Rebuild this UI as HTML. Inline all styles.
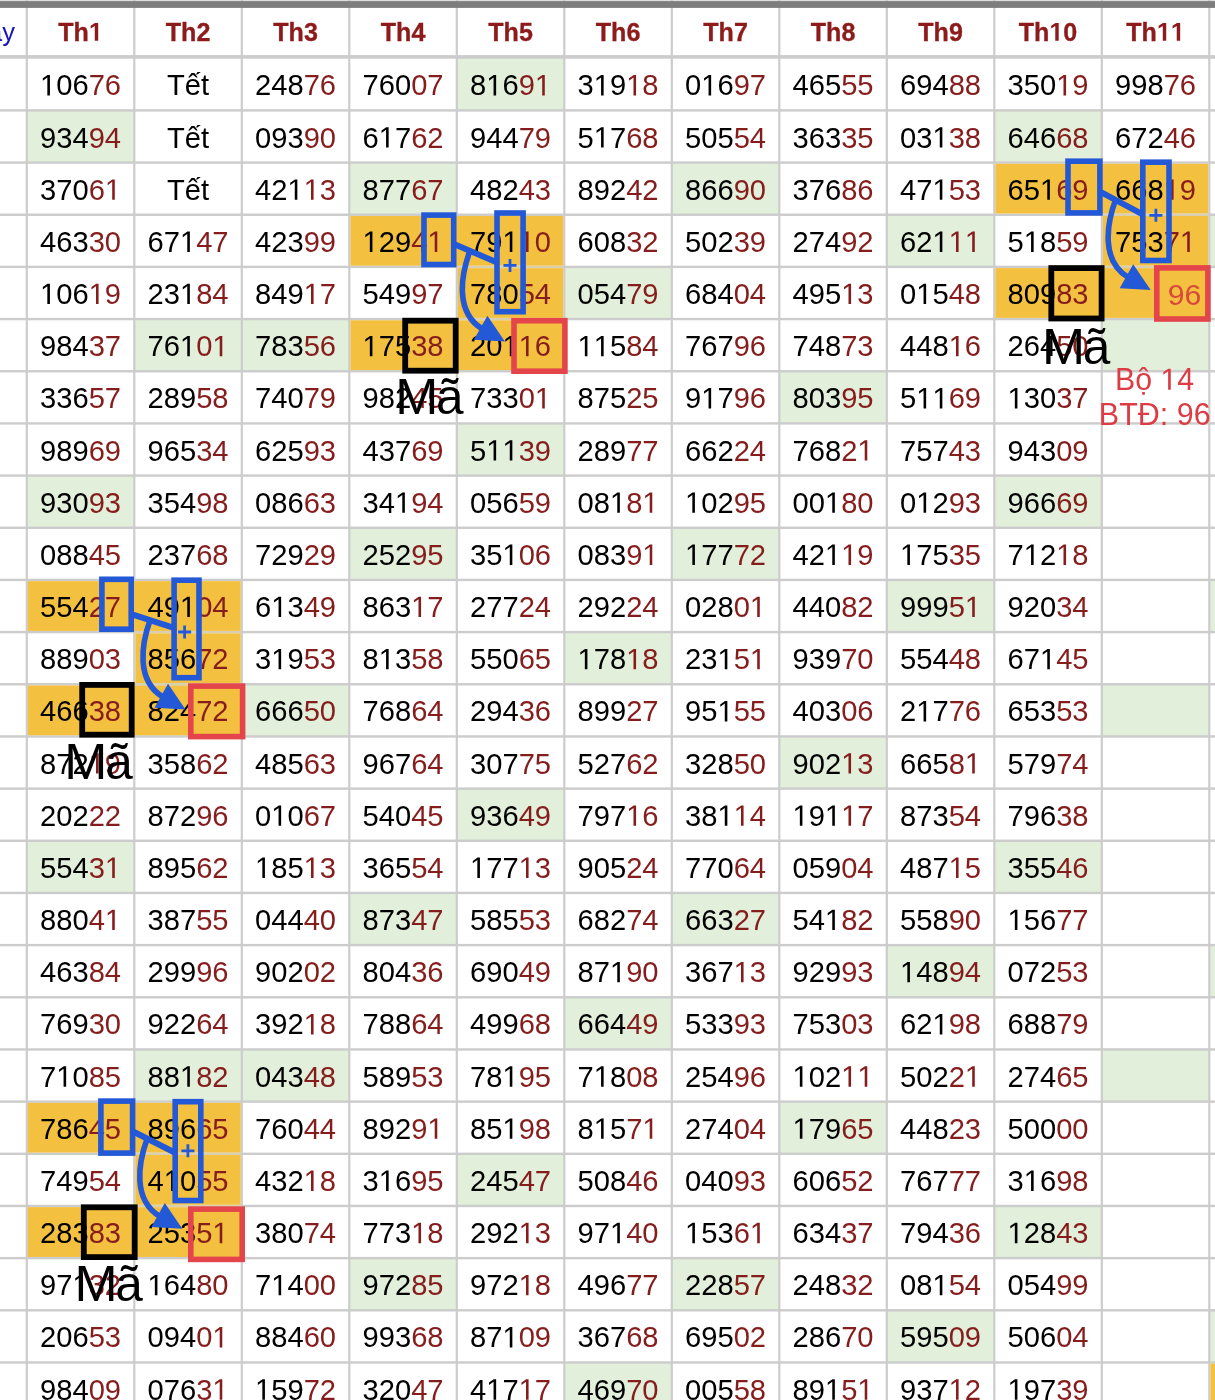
<!DOCTYPE html><html><head><meta charset="utf-8"><style>
html,body{margin:0;padding:0;background:#fff;width:1215px;height:1400px;overflow:hidden}
svg{display:block;will-change:transform;filter:blur(0.35px);font-family:"Liberation Sans",sans-serif}
</style></head><body>
<svg width="1215" height="1400" viewBox="0 0 1215 1400">
<defs><path id="one" d="M515 0L515 1237L197 1010L197 1180L530 1409L696 1409L696 0Z"/><path id="oneb" d="M478 0L478 1170L140 959L140 1180L493 1409L759 1409L759 0Z"/></defs>
<rect width="1215" height="1400" fill="#fff"/>
<rect x="26.80" y="110.40" width="107.50" height="52.17" fill="#e2efda"/>
<rect x="26.80" y="475.59" width="107.50" height="52.17" fill="#e2efda"/>
<rect x="26.80" y="840.78" width="107.50" height="52.17" fill="#e2efda"/>
<rect x="26.80" y="1205.97" width="107.50" height="52.17" fill="#e2efda"/>
<rect x="134.30" y="319.08" width="107.50" height="52.17" fill="#e2efda"/>
<rect x="134.30" y="684.27" width="107.50" height="52.17" fill="#e2efda"/>
<rect x="134.30" y="1049.46" width="107.50" height="52.17" fill="#e2efda"/>
<rect x="241.80" y="319.08" width="107.50" height="52.17" fill="#e2efda"/>
<rect x="241.80" y="684.27" width="107.50" height="52.17" fill="#e2efda"/>
<rect x="241.80" y="1049.46" width="107.50" height="52.17" fill="#e2efda"/>
<rect x="349.30" y="162.57" width="107.50" height="52.17" fill="#e2efda"/>
<rect x="349.30" y="527.76" width="107.50" height="52.17" fill="#e2efda"/>
<rect x="349.30" y="892.95" width="107.50" height="52.17" fill="#e2efda"/>
<rect x="349.30" y="1258.14" width="107.50" height="52.17" fill="#e2efda"/>
<rect x="456.80" y="56.90" width="107.50" height="53.50" fill="#e2efda"/>
<rect x="456.80" y="423.42" width="107.50" height="52.17" fill="#e2efda"/>
<rect x="456.80" y="788.61" width="107.50" height="52.17" fill="#e2efda"/>
<rect x="456.80" y="1153.80" width="107.50" height="52.17" fill="#e2efda"/>
<rect x="564.30" y="266.91" width="107.50" height="52.17" fill="#e2efda"/>
<rect x="564.30" y="632.10" width="107.50" height="52.17" fill="#e2efda"/>
<rect x="564.30" y="997.29" width="107.50" height="52.17" fill="#e2efda"/>
<rect x="564.30" y="1362.48" width="107.50" height="42.52" fill="#e2efda"/>
<rect x="671.80" y="162.57" width="107.50" height="52.17" fill="#e2efda"/>
<rect x="671.80" y="527.76" width="107.50" height="52.17" fill="#e2efda"/>
<rect x="671.80" y="892.95" width="107.50" height="52.17" fill="#e2efda"/>
<rect x="671.80" y="1258.14" width="107.50" height="52.17" fill="#e2efda"/>
<rect x="779.30" y="371.25" width="107.50" height="52.17" fill="#e2efda"/>
<rect x="779.30" y="736.44" width="107.50" height="52.17" fill="#e2efda"/>
<rect x="779.30" y="1101.63" width="107.50" height="52.17" fill="#e2efda"/>
<rect x="886.80" y="214.74" width="107.50" height="52.17" fill="#e2efda"/>
<rect x="886.80" y="579.93" width="107.50" height="52.17" fill="#e2efda"/>
<rect x="886.80" y="945.12" width="107.50" height="52.17" fill="#e2efda"/>
<rect x="886.80" y="1310.31" width="107.50" height="52.17" fill="#e2efda"/>
<rect x="994.30" y="110.40" width="107.50" height="52.17" fill="#e2efda"/>
<rect x="994.30" y="475.59" width="107.50" height="52.17" fill="#e2efda"/>
<rect x="994.30" y="840.78" width="107.50" height="52.17" fill="#e2efda"/>
<rect x="994.30" y="1205.97" width="107.50" height="52.17" fill="#e2efda"/>
<rect x="1101.80" y="319.08" width="107.50" height="52.17" fill="#e2efda"/>
<rect x="1101.80" y="684.27" width="107.50" height="52.17" fill="#e2efda"/>
<rect x="1101.80" y="1049.46" width="107.50" height="52.17" fill="#e2efda"/>
<rect x="1209.30" y="214.74" width="10.70" height="52.17" fill="#e2efda"/>
<rect x="1209.30" y="579.93" width="10.70" height="52.17" fill="#e2efda"/>
<rect x="1209.30" y="945.12" width="10.70" height="52.17" fill="#e2efda"/>
<rect x="1209.30" y="1310.31" width="10.70" height="52.17" fill="#e2efda"/>
<rect x="0" y="0" width="1215" height="1.1" fill="#dedede"/>
<rect x="25.70" y="0" width="2.20" height="1400" fill="#cccccc"/>
<rect x="133.20" y="0" width="2.20" height="1400" fill="#cccccc"/>
<rect x="240.70" y="0" width="2.20" height="1400" fill="#cccccc"/>
<rect x="348.20" y="0" width="2.20" height="1400" fill="#cccccc"/>
<rect x="455.70" y="0" width="2.20" height="1400" fill="#cccccc"/>
<rect x="563.20" y="0" width="2.20" height="1400" fill="#cccccc"/>
<rect x="670.70" y="0" width="2.20" height="1400" fill="#cccccc"/>
<rect x="778.20" y="0" width="2.20" height="1400" fill="#cccccc"/>
<rect x="885.70" y="0" width="2.20" height="1400" fill="#cccccc"/>
<rect x="993.20" y="0" width="2.20" height="1400" fill="#cccccc"/>
<rect x="1100.70" y="0" width="2.20" height="1400" fill="#cccccc"/>
<rect x="1208.20" y="0" width="2.20" height="1400" fill="#cccccc"/>
<rect x="0" y="1.1" width="1215" height="6.8" fill="#7d7d7d"/>
<rect x="0" y="55.1" width="1215" height="3.6" fill="#cccccc"/>
<rect x="0" y="109.20" width="1215" height="2.40" fill="#cccccc"/>
<rect x="0" y="161.37" width="1215" height="2.40" fill="#cccccc"/>
<rect x="0" y="213.54" width="1215" height="2.40" fill="#cccccc"/>
<rect x="0" y="265.71" width="1215" height="2.40" fill="#cccccc"/>
<rect x="0" y="317.88" width="1215" height="2.40" fill="#cccccc"/>
<rect x="0" y="370.05" width="1215" height="2.40" fill="#cccccc"/>
<rect x="0" y="422.22" width="1215" height="2.40" fill="#cccccc"/>
<rect x="0" y="474.39" width="1215" height="2.40" fill="#cccccc"/>
<rect x="0" y="526.56" width="1215" height="2.40" fill="#cccccc"/>
<rect x="0" y="578.73" width="1215" height="2.40" fill="#cccccc"/>
<rect x="0" y="630.90" width="1215" height="2.40" fill="#cccccc"/>
<rect x="0" y="683.07" width="1215" height="2.40" fill="#cccccc"/>
<rect x="0" y="735.24" width="1215" height="2.40" fill="#cccccc"/>
<rect x="0" y="787.41" width="1215" height="2.40" fill="#cccccc"/>
<rect x="0" y="839.58" width="1215" height="2.40" fill="#cccccc"/>
<rect x="0" y="891.75" width="1215" height="2.40" fill="#cccccc"/>
<rect x="0" y="943.92" width="1215" height="2.40" fill="#cccccc"/>
<rect x="0" y="996.09" width="1215" height="2.40" fill="#cccccc"/>
<rect x="0" y="1048.26" width="1215" height="2.40" fill="#cccccc"/>
<rect x="0" y="1100.43" width="1215" height="2.40" fill="#cccccc"/>
<rect x="0" y="1152.60" width="1215" height="2.40" fill="#cccccc"/>
<rect x="0" y="1204.77" width="1215" height="2.40" fill="#cccccc"/>
<rect x="0" y="1256.94" width="1215" height="2.40" fill="#cccccc"/>
<rect x="0" y="1309.11" width="1215" height="2.40" fill="#cccccc"/>
<rect x="0" y="1361.28" width="1215" height="2.40" fill="#cccccc"/>
<rect x="350.40" y="215.94" width="212.80" height="49.77" fill="#f3c03f"/>
<rect x="457.90" y="268.11" width="105.30" height="49.77" fill="#f3c03f"/>
<rect x="350.40" y="320.28" width="212.80" height="49.77" fill="#f3c03f"/>
<rect x="995.40" y="163.77" width="212.80" height="49.77" fill="#f3c03f"/>
<rect x="1102.90" y="215.94" width="105.30" height="49.77" fill="#f3c03f"/>
<rect x="995.40" y="268.11" width="212.80" height="49.77" fill="#f3c03f"/>
<rect x="27.90" y="581.13" width="212.80" height="49.77" fill="#f3c03f"/>
<rect x="135.40" y="633.30" width="105.30" height="49.77" fill="#f3c03f"/>
<rect x="27.90" y="685.47" width="212.80" height="49.77" fill="#f3c03f"/>
<rect x="27.90" y="1102.83" width="212.80" height="49.77" fill="#f3c03f"/>
<rect x="135.40" y="1155.00" width="105.30" height="49.77" fill="#f3c03f"/>
<rect x="27.90" y="1207.17" width="212.80" height="49.77" fill="#f3c03f"/>
<rect x="1210.40" y="1363.68" width="9.60" height="41.32" fill="#f3c03f"/>
<rect x="457.90" y="265.91" width="105.30" height="2.00" fill="#dacfae"/>
<rect x="457.90" y="318.08" width="105.30" height="2.00" fill="#dacfae"/>
<rect x="1102.90" y="213.74" width="105.30" height="2.00" fill="#dacfae"/>
<rect x="1102.90" y="265.91" width="105.30" height="2.00" fill="#dacfae"/>
<rect x="135.40" y="631.10" width="105.30" height="2.00" fill="#dacfae"/>
<rect x="135.40" y="683.27" width="105.30" height="2.00" fill="#dacfae"/>
<rect x="135.40" y="1152.80" width="105.30" height="2.00" fill="#dacfae"/>
<rect x="135.40" y="1204.97" width="105.30" height="2.00" fill="#dacfae"/>
<g font-weight="bold" fill="#8e1b1b" stroke="#8e1b1b" stroke-width="0.35" font-size="26.00">
<text transform="translate(80.55 40.80) scale(0.965 1)" text-anchor="middle">Th </text>
<use href="#oneb" transform="translate(88.90 40.80) scale(0.01225 -0.01270)" stroke-width="0.35" vector-effect="non-scaling-stroke"/>
<text transform="translate(188.05 40.80) scale(0.965 1)" text-anchor="middle">Th2</text>
<text transform="translate(295.55 40.80) scale(0.965 1)" text-anchor="middle">Th3</text>
<text transform="translate(403.05 40.80) scale(0.965 1)" text-anchor="middle">Th4</text>
<text transform="translate(510.55 40.80) scale(0.965 1)" text-anchor="middle">Th5</text>
<text transform="translate(618.05 40.80) scale(0.965 1)" text-anchor="middle">Th6</text>
<text transform="translate(725.55 40.80) scale(0.965 1)" text-anchor="middle">Th7</text>
<text transform="translate(833.05 40.80) scale(0.965 1)" text-anchor="middle">Th8</text>
<text transform="translate(940.55 40.80) scale(0.965 1)" text-anchor="middle">Th9</text>
<text transform="translate(1048.05 40.80) scale(0.965 1)" text-anchor="middle">Th 0</text>
<use href="#oneb" transform="translate(1049.42 40.80) scale(0.01225 -0.01270)" stroke-width="0.35" vector-effect="non-scaling-stroke"/>
<text transform="translate(1155.55 40.80) scale(0.965 1)" text-anchor="middle">Th  </text>
<use href="#oneb" transform="translate(1156.92 40.80) scale(0.01225 -0.01270)" stroke-width="0.35" vector-effect="non-scaling-stroke"/>
<use href="#oneb" transform="translate(1170.88 40.80) scale(0.01225 -0.01270)" stroke-width="0.35" vector-effect="non-scaling-stroke"/>
</g>
<text x="14.9" y="40.7" font-size="25.5" fill="#1616bb" text-anchor="end">Ngày</text>
<g font-size="29.60" fill="#000">
<text transform="translate(80.55 95.40) scale(0.985 1)" text-anchor="middle"> 06<tspan fill="#861d1d">76</tspan></text>
<use href="#one" transform="translate(40.01 95.40) scale(0.01424 -0.01445)"/>
<text transform="translate(188.05 95.40) scale(0.985 1)" text-anchor="middle">Tết</text>
<text transform="translate(295.55 95.40) scale(0.985 1)" text-anchor="middle">248<tspan fill="#861d1d">76</tspan></text>
<text transform="translate(403.05 95.40) scale(0.985 1)" text-anchor="middle">760<tspan fill="#861d1d">07</tspan></text>
<text transform="translate(510.55 95.40) scale(0.985 1)" text-anchor="middle">8 6<tspan fill="#861d1d">9 </tspan></text>
<use href="#one" transform="translate(486.23 95.40) scale(0.01424 -0.01445)"/>
<use href="#one" transform="translate(534.87 95.40) scale(0.01424 -0.01445)" fill="#861d1d"/>
<text transform="translate(618.05 95.40) scale(0.985 1)" text-anchor="middle">3 9<tspan fill="#861d1d"> 8</tspan></text>
<use href="#one" transform="translate(593.73 95.40) scale(0.01424 -0.01445)"/>
<use href="#one" transform="translate(626.16 95.40) scale(0.01424 -0.01445)" fill="#861d1d"/>
<text transform="translate(725.55 95.40) scale(0.985 1)" text-anchor="middle">0 6<tspan fill="#861d1d">97</tspan></text>
<use href="#one" transform="translate(701.23 95.40) scale(0.01424 -0.01445)"/>
<text transform="translate(833.05 95.40) scale(0.985 1)" text-anchor="middle">465<tspan fill="#861d1d">55</tspan></text>
<text transform="translate(940.55 95.40) scale(0.985 1)" text-anchor="middle">694<tspan fill="#861d1d">88</tspan></text>
<text transform="translate(1048.05 95.40) scale(0.985 1)" text-anchor="middle">350<tspan fill="#861d1d"> 9</tspan></text>
<use href="#one" transform="translate(1056.16 95.40) scale(0.01424 -0.01445)" fill="#861d1d"/>
<text transform="translate(1155.55 95.40) scale(0.985 1)" text-anchor="middle">998<tspan fill="#861d1d">76</tspan></text>
<text transform="translate(80.55 147.57) scale(0.985 1)" text-anchor="middle">934<tspan fill="#861d1d">94</tspan></text>
<text transform="translate(188.05 147.57) scale(0.985 1)" text-anchor="middle">Tết</text>
<text transform="translate(295.55 147.57) scale(0.985 1)" text-anchor="middle">093<tspan fill="#861d1d">90</tspan></text>
<text transform="translate(403.05 147.57) scale(0.985 1)" text-anchor="middle">6 7<tspan fill="#861d1d">62</tspan></text>
<use href="#one" transform="translate(378.73 147.57) scale(0.01424 -0.01445)"/>
<text transform="translate(510.55 147.57) scale(0.985 1)" text-anchor="middle">944<tspan fill="#861d1d">79</tspan></text>
<text transform="translate(618.05 147.57) scale(0.985 1)" text-anchor="middle">5 7<tspan fill="#861d1d">68</tspan></text>
<use href="#one" transform="translate(593.73 147.57) scale(0.01424 -0.01445)"/>
<text transform="translate(725.55 147.57) scale(0.985 1)" text-anchor="middle">505<tspan fill="#861d1d">54</tspan></text>
<text transform="translate(833.05 147.57) scale(0.985 1)" text-anchor="middle">363<tspan fill="#861d1d">35</tspan></text>
<text transform="translate(940.55 147.57) scale(0.985 1)" text-anchor="middle">03 <tspan fill="#861d1d">38</tspan></text>
<use href="#one" transform="translate(932.44 147.57) scale(0.01424 -0.01445)"/>
<text transform="translate(1048.05 147.57) scale(0.985 1)" text-anchor="middle">646<tspan fill="#861d1d">68</tspan></text>
<text transform="translate(1155.55 147.57) scale(0.985 1)" text-anchor="middle">672<tspan fill="#861d1d">46</tspan></text>
<text transform="translate(80.55 199.74) scale(0.985 1)" text-anchor="middle">370<tspan fill="#861d1d">6 </tspan></text>
<use href="#one" transform="translate(104.87 199.74) scale(0.01424 -0.01445)" fill="#861d1d"/>
<text transform="translate(188.05 199.74) scale(0.985 1)" text-anchor="middle">Tết</text>
<text transform="translate(295.55 199.74) scale(0.985 1)" text-anchor="middle">42 <tspan fill="#861d1d"> 3</tspan></text>
<use href="#one" transform="translate(287.44 199.74) scale(0.01424 -0.01445)"/>
<use href="#one" transform="translate(303.66 199.74) scale(0.01424 -0.01445)" fill="#861d1d"/>
<text transform="translate(403.05 199.74) scale(0.985 1)" text-anchor="middle">877<tspan fill="#861d1d">67</tspan></text>
<text transform="translate(510.55 199.74) scale(0.985 1)" text-anchor="middle">482<tspan fill="#861d1d">43</tspan></text>
<text transform="translate(618.05 199.74) scale(0.985 1)" text-anchor="middle">892<tspan fill="#861d1d">42</tspan></text>
<text transform="translate(725.55 199.74) scale(0.985 1)" text-anchor="middle">866<tspan fill="#861d1d">90</tspan></text>
<text transform="translate(833.05 199.74) scale(0.985 1)" text-anchor="middle">376<tspan fill="#861d1d">86</tspan></text>
<text transform="translate(940.55 199.74) scale(0.985 1)" text-anchor="middle">47 <tspan fill="#861d1d">53</tspan></text>
<use href="#one" transform="translate(932.44 199.74) scale(0.01424 -0.01445)"/>
<text transform="translate(1048.05 199.74) scale(0.985 1)" text-anchor="middle">65 <tspan fill="#861d1d">69</tspan></text>
<use href="#one" transform="translate(1039.94 199.74) scale(0.01424 -0.01445)"/>
<text transform="translate(1155.55 199.74) scale(0.985 1)" text-anchor="middle">668<tspan fill="#861d1d"> 9</tspan></text>
<use href="#one" transform="translate(1163.66 199.74) scale(0.01424 -0.01445)" fill="#861d1d"/>
<text transform="translate(80.55 251.91) scale(0.985 1)" text-anchor="middle">463<tspan fill="#861d1d">30</tspan></text>
<text transform="translate(188.05 251.91) scale(0.985 1)" text-anchor="middle">67 <tspan fill="#861d1d">47</tspan></text>
<use href="#one" transform="translate(179.94 251.91) scale(0.01424 -0.01445)"/>
<text transform="translate(295.55 251.91) scale(0.985 1)" text-anchor="middle">423<tspan fill="#861d1d">99</tspan></text>
<text transform="translate(403.05 251.91) scale(0.985 1)" text-anchor="middle"> 29<tspan fill="#861d1d">4 </tspan></text>
<use href="#one" transform="translate(362.51 251.91) scale(0.01424 -0.01445)"/>
<use href="#one" transform="translate(427.37 251.91) scale(0.01424 -0.01445)" fill="#861d1d"/>
<text transform="translate(510.55 251.91) scale(0.985 1)" text-anchor="middle">79 <tspan fill="#861d1d"> 0</tspan></text>
<use href="#one" transform="translate(502.44 251.91) scale(0.01424 -0.01445)"/>
<use href="#one" transform="translate(518.66 251.91) scale(0.01424 -0.01445)" fill="#861d1d"/>
<text transform="translate(618.05 251.91) scale(0.985 1)" text-anchor="middle">608<tspan fill="#861d1d">32</tspan></text>
<text transform="translate(725.55 251.91) scale(0.985 1)" text-anchor="middle">502<tspan fill="#861d1d">39</tspan></text>
<text transform="translate(833.05 251.91) scale(0.985 1)" text-anchor="middle">274<tspan fill="#861d1d">92</tspan></text>
<text transform="translate(940.55 251.91) scale(0.985 1)" text-anchor="middle">62 <tspan fill="#861d1d">  </tspan></text>
<use href="#one" transform="translate(932.44 251.91) scale(0.01424 -0.01445)"/>
<use href="#one" transform="translate(948.66 251.91) scale(0.01424 -0.01445)" fill="#861d1d"/>
<use href="#one" transform="translate(964.87 251.91) scale(0.01424 -0.01445)" fill="#861d1d"/>
<text transform="translate(1048.05 251.91) scale(0.985 1)" text-anchor="middle">5 8<tspan fill="#861d1d">59</tspan></text>
<use href="#one" transform="translate(1023.73 251.91) scale(0.01424 -0.01445)"/>
<text transform="translate(1155.55 251.91) scale(0.985 1)" text-anchor="middle">753<tspan fill="#861d1d">7 </tspan></text>
<use href="#one" transform="translate(1179.87 251.91) scale(0.01424 -0.01445)" fill="#861d1d"/>
<text transform="translate(80.55 304.08) scale(0.985 1)" text-anchor="middle"> 06<tspan fill="#861d1d"> 9</tspan></text>
<use href="#one" transform="translate(40.01 304.08) scale(0.01424 -0.01445)"/>
<use href="#one" transform="translate(88.66 304.08) scale(0.01424 -0.01445)" fill="#861d1d"/>
<text transform="translate(188.05 304.08) scale(0.985 1)" text-anchor="middle">23 <tspan fill="#861d1d">84</tspan></text>
<use href="#one" transform="translate(179.94 304.08) scale(0.01424 -0.01445)"/>
<text transform="translate(295.55 304.08) scale(0.985 1)" text-anchor="middle">849<tspan fill="#861d1d"> 7</tspan></text>
<use href="#one" transform="translate(303.66 304.08) scale(0.01424 -0.01445)" fill="#861d1d"/>
<text transform="translate(403.05 304.08) scale(0.985 1)" text-anchor="middle">549<tspan fill="#861d1d">97</tspan></text>
<text transform="translate(510.55 304.08) scale(0.985 1)" text-anchor="middle">780<tspan fill="#861d1d">54</tspan></text>
<text transform="translate(618.05 304.08) scale(0.985 1)" text-anchor="middle">054<tspan fill="#861d1d">79</tspan></text>
<text transform="translate(725.55 304.08) scale(0.985 1)" text-anchor="middle">684<tspan fill="#861d1d">04</tspan></text>
<text transform="translate(833.05 304.08) scale(0.985 1)" text-anchor="middle">495<tspan fill="#861d1d"> 3</tspan></text>
<use href="#one" transform="translate(841.16 304.08) scale(0.01424 -0.01445)" fill="#861d1d"/>
<text transform="translate(940.55 304.08) scale(0.985 1)" text-anchor="middle">0 5<tspan fill="#861d1d">48</tspan></text>
<use href="#one" transform="translate(916.23 304.08) scale(0.01424 -0.01445)"/>
<text transform="translate(1048.05 304.08) scale(0.985 1)" text-anchor="middle">809<tspan fill="#861d1d">83</tspan></text>
<text transform="translate(80.55 356.25) scale(0.985 1)" text-anchor="middle">984<tspan fill="#861d1d">37</tspan></text>
<text transform="translate(188.05 356.25) scale(0.985 1)" text-anchor="middle">76 <tspan fill="#861d1d">0 </tspan></text>
<use href="#one" transform="translate(179.94 356.25) scale(0.01424 -0.01445)"/>
<use href="#one" transform="translate(212.37 356.25) scale(0.01424 -0.01445)" fill="#861d1d"/>
<text transform="translate(295.55 356.25) scale(0.985 1)" text-anchor="middle">783<tspan fill="#861d1d">56</tspan></text>
<text transform="translate(403.05 356.25) scale(0.985 1)" text-anchor="middle"> 75<tspan fill="#861d1d">38</tspan></text>
<use href="#one" transform="translate(362.51 356.25) scale(0.01424 -0.01445)"/>
<text transform="translate(510.55 356.25) scale(0.985 1)" text-anchor="middle">20 <tspan fill="#861d1d"> 6</tspan></text>
<use href="#one" transform="translate(502.44 356.25) scale(0.01424 -0.01445)"/>
<use href="#one" transform="translate(518.66 356.25) scale(0.01424 -0.01445)" fill="#861d1d"/>
<text transform="translate(618.05 356.25) scale(0.985 1)" text-anchor="middle">  5<tspan fill="#861d1d">84</tspan></text>
<use href="#one" transform="translate(577.51 356.25) scale(0.01424 -0.01445)"/>
<use href="#one" transform="translate(593.73 356.25) scale(0.01424 -0.01445)"/>
<text transform="translate(725.55 356.25) scale(0.985 1)" text-anchor="middle">767<tspan fill="#861d1d">96</tspan></text>
<text transform="translate(833.05 356.25) scale(0.985 1)" text-anchor="middle">748<tspan fill="#861d1d">73</tspan></text>
<text transform="translate(940.55 356.25) scale(0.985 1)" text-anchor="middle">448<tspan fill="#861d1d"> 6</tspan></text>
<use href="#one" transform="translate(948.66 356.25) scale(0.01424 -0.01445)" fill="#861d1d"/>
<text transform="translate(1048.05 356.25) scale(0.985 1)" text-anchor="middle">264<tspan fill="#861d1d">50</tspan></text>
<text transform="translate(80.55 408.42) scale(0.985 1)" text-anchor="middle">336<tspan fill="#861d1d">57</tspan></text>
<text transform="translate(188.05 408.42) scale(0.985 1)" text-anchor="middle">289<tspan fill="#861d1d">58</tspan></text>
<text transform="translate(295.55 408.42) scale(0.985 1)" text-anchor="middle">740<tspan fill="#861d1d">79</tspan></text>
<text transform="translate(403.05 408.42) scale(0.985 1)" text-anchor="middle">982<tspan fill="#861d1d">45</tspan></text>
<text transform="translate(510.55 408.42) scale(0.985 1)" text-anchor="middle">733<tspan fill="#861d1d">0 </tspan></text>
<use href="#one" transform="translate(534.87 408.42) scale(0.01424 -0.01445)" fill="#861d1d"/>
<text transform="translate(618.05 408.42) scale(0.985 1)" text-anchor="middle">875<tspan fill="#861d1d">25</tspan></text>
<text transform="translate(725.55 408.42) scale(0.985 1)" text-anchor="middle">9 7<tspan fill="#861d1d">96</tspan></text>
<use href="#one" transform="translate(701.23 408.42) scale(0.01424 -0.01445)"/>
<text transform="translate(833.05 408.42) scale(0.985 1)" text-anchor="middle">803<tspan fill="#861d1d">95</tspan></text>
<text transform="translate(940.55 408.42) scale(0.985 1)" text-anchor="middle">5  <tspan fill="#861d1d">69</tspan></text>
<use href="#one" transform="translate(916.23 408.42) scale(0.01424 -0.01445)"/>
<use href="#one" transform="translate(932.44 408.42) scale(0.01424 -0.01445)"/>
<text transform="translate(1048.05 408.42) scale(0.985 1)" text-anchor="middle"> 30<tspan fill="#861d1d">37</tspan></text>
<use href="#one" transform="translate(1007.51 408.42) scale(0.01424 -0.01445)"/>
<text transform="translate(80.55 460.59) scale(0.985 1)" text-anchor="middle">989<tspan fill="#861d1d">69</tspan></text>
<text transform="translate(188.05 460.59) scale(0.985 1)" text-anchor="middle">965<tspan fill="#861d1d">34</tspan></text>
<text transform="translate(295.55 460.59) scale(0.985 1)" text-anchor="middle">625<tspan fill="#861d1d">93</tspan></text>
<text transform="translate(403.05 460.59) scale(0.985 1)" text-anchor="middle">437<tspan fill="#861d1d">69</tspan></text>
<text transform="translate(510.55 460.59) scale(0.985 1)" text-anchor="middle">5  <tspan fill="#861d1d">39</tspan></text>
<use href="#one" transform="translate(486.23 460.59) scale(0.01424 -0.01445)"/>
<use href="#one" transform="translate(502.44 460.59) scale(0.01424 -0.01445)"/>
<text transform="translate(618.05 460.59) scale(0.985 1)" text-anchor="middle">289<tspan fill="#861d1d">77</tspan></text>
<text transform="translate(725.55 460.59) scale(0.985 1)" text-anchor="middle">662<tspan fill="#861d1d">24</tspan></text>
<text transform="translate(833.05 460.59) scale(0.985 1)" text-anchor="middle">768<tspan fill="#861d1d">2 </tspan></text>
<use href="#one" transform="translate(857.37 460.59) scale(0.01424 -0.01445)" fill="#861d1d"/>
<text transform="translate(940.55 460.59) scale(0.985 1)" text-anchor="middle">757<tspan fill="#861d1d">43</tspan></text>
<text transform="translate(1048.05 460.59) scale(0.985 1)" text-anchor="middle">943<tspan fill="#861d1d">09</tspan></text>
<text transform="translate(80.55 512.76) scale(0.985 1)" text-anchor="middle">930<tspan fill="#861d1d">93</tspan></text>
<text transform="translate(188.05 512.76) scale(0.985 1)" text-anchor="middle">354<tspan fill="#861d1d">98</tspan></text>
<text transform="translate(295.55 512.76) scale(0.985 1)" text-anchor="middle">086<tspan fill="#861d1d">63</tspan></text>
<text transform="translate(403.05 512.76) scale(0.985 1)" text-anchor="middle">34 <tspan fill="#861d1d">94</tspan></text>
<use href="#one" transform="translate(394.94 512.76) scale(0.01424 -0.01445)"/>
<text transform="translate(510.55 512.76) scale(0.985 1)" text-anchor="middle">056<tspan fill="#861d1d">59</tspan></text>
<text transform="translate(618.05 512.76) scale(0.985 1)" text-anchor="middle">08 <tspan fill="#861d1d">8 </tspan></text>
<use href="#one" transform="translate(609.94 512.76) scale(0.01424 -0.01445)"/>
<use href="#one" transform="translate(642.37 512.76) scale(0.01424 -0.01445)" fill="#861d1d"/>
<text transform="translate(725.55 512.76) scale(0.985 1)" text-anchor="middle"> 02<tspan fill="#861d1d">95</tspan></text>
<use href="#one" transform="translate(685.01 512.76) scale(0.01424 -0.01445)"/>
<text transform="translate(833.05 512.76) scale(0.985 1)" text-anchor="middle">00 <tspan fill="#861d1d">80</tspan></text>
<use href="#one" transform="translate(824.94 512.76) scale(0.01424 -0.01445)"/>
<text transform="translate(940.55 512.76) scale(0.985 1)" text-anchor="middle">0 2<tspan fill="#861d1d">93</tspan></text>
<use href="#one" transform="translate(916.23 512.76) scale(0.01424 -0.01445)"/>
<text transform="translate(1048.05 512.76) scale(0.985 1)" text-anchor="middle">966<tspan fill="#861d1d">69</tspan></text>
<text transform="translate(80.55 564.93) scale(0.985 1)" text-anchor="middle">088<tspan fill="#861d1d">45</tspan></text>
<text transform="translate(188.05 564.93) scale(0.985 1)" text-anchor="middle">237<tspan fill="#861d1d">68</tspan></text>
<text transform="translate(295.55 564.93) scale(0.985 1)" text-anchor="middle">729<tspan fill="#861d1d">29</tspan></text>
<text transform="translate(403.05 564.93) scale(0.985 1)" text-anchor="middle">252<tspan fill="#861d1d">95</tspan></text>
<text transform="translate(510.55 564.93) scale(0.985 1)" text-anchor="middle">35 <tspan fill="#861d1d">06</tspan></text>
<use href="#one" transform="translate(502.44 564.93) scale(0.01424 -0.01445)"/>
<text transform="translate(618.05 564.93) scale(0.985 1)" text-anchor="middle">083<tspan fill="#861d1d">9 </tspan></text>
<use href="#one" transform="translate(642.37 564.93) scale(0.01424 -0.01445)" fill="#861d1d"/>
<text transform="translate(725.55 564.93) scale(0.985 1)" text-anchor="middle"> 77<tspan fill="#861d1d">72</tspan></text>
<use href="#one" transform="translate(685.01 564.93) scale(0.01424 -0.01445)"/>
<text transform="translate(833.05 564.93) scale(0.985 1)" text-anchor="middle">42 <tspan fill="#861d1d"> 9</tspan></text>
<use href="#one" transform="translate(824.94 564.93) scale(0.01424 -0.01445)"/>
<use href="#one" transform="translate(841.16 564.93) scale(0.01424 -0.01445)" fill="#861d1d"/>
<text transform="translate(940.55 564.93) scale(0.985 1)" text-anchor="middle"> 75<tspan fill="#861d1d">35</tspan></text>
<use href="#one" transform="translate(900.01 564.93) scale(0.01424 -0.01445)"/>
<text transform="translate(1048.05 564.93) scale(0.985 1)" text-anchor="middle">7 2<tspan fill="#861d1d"> 8</tspan></text>
<use href="#one" transform="translate(1023.73 564.93) scale(0.01424 -0.01445)"/>
<use href="#one" transform="translate(1056.16 564.93) scale(0.01424 -0.01445)" fill="#861d1d"/>
<text transform="translate(80.55 617.10) scale(0.985 1)" text-anchor="middle">554<tspan fill="#861d1d">27</tspan></text>
<text transform="translate(188.05 617.10) scale(0.985 1)" text-anchor="middle">49 <tspan fill="#861d1d">04</tspan></text>
<use href="#one" transform="translate(179.94 617.10) scale(0.01424 -0.01445)"/>
<text transform="translate(295.55 617.10) scale(0.985 1)" text-anchor="middle">6 3<tspan fill="#861d1d">49</tspan></text>
<use href="#one" transform="translate(271.23 617.10) scale(0.01424 -0.01445)"/>
<text transform="translate(403.05 617.10) scale(0.985 1)" text-anchor="middle">863<tspan fill="#861d1d"> 7</tspan></text>
<use href="#one" transform="translate(411.16 617.10) scale(0.01424 -0.01445)" fill="#861d1d"/>
<text transform="translate(510.55 617.10) scale(0.985 1)" text-anchor="middle">277<tspan fill="#861d1d">24</tspan></text>
<text transform="translate(618.05 617.10) scale(0.985 1)" text-anchor="middle">292<tspan fill="#861d1d">24</tspan></text>
<text transform="translate(725.55 617.10) scale(0.985 1)" text-anchor="middle">028<tspan fill="#861d1d">0 </tspan></text>
<use href="#one" transform="translate(749.87 617.10) scale(0.01424 -0.01445)" fill="#861d1d"/>
<text transform="translate(833.05 617.10) scale(0.985 1)" text-anchor="middle">440<tspan fill="#861d1d">82</tspan></text>
<text transform="translate(940.55 617.10) scale(0.985 1)" text-anchor="middle">999<tspan fill="#861d1d">5 </tspan></text>
<use href="#one" transform="translate(964.87 617.10) scale(0.01424 -0.01445)" fill="#861d1d"/>
<text transform="translate(1048.05 617.10) scale(0.985 1)" text-anchor="middle">920<tspan fill="#861d1d">34</tspan></text>
<text transform="translate(80.55 669.27) scale(0.985 1)" text-anchor="middle">889<tspan fill="#861d1d">03</tspan></text>
<text transform="translate(188.05 669.27) scale(0.985 1)" text-anchor="middle">856<tspan fill="#861d1d">72</tspan></text>
<text transform="translate(295.55 669.27) scale(0.985 1)" text-anchor="middle">3 9<tspan fill="#861d1d">53</tspan></text>
<use href="#one" transform="translate(271.23 669.27) scale(0.01424 -0.01445)"/>
<text transform="translate(403.05 669.27) scale(0.985 1)" text-anchor="middle">8 3<tspan fill="#861d1d">58</tspan></text>
<use href="#one" transform="translate(378.73 669.27) scale(0.01424 -0.01445)"/>
<text transform="translate(510.55 669.27) scale(0.985 1)" text-anchor="middle">550<tspan fill="#861d1d">65</tspan></text>
<text transform="translate(618.05 669.27) scale(0.985 1)" text-anchor="middle"> 78<tspan fill="#861d1d"> 8</tspan></text>
<use href="#one" transform="translate(577.51 669.27) scale(0.01424 -0.01445)"/>
<use href="#one" transform="translate(626.16 669.27) scale(0.01424 -0.01445)" fill="#861d1d"/>
<text transform="translate(725.55 669.27) scale(0.985 1)" text-anchor="middle">23 <tspan fill="#861d1d">5 </tspan></text>
<use href="#one" transform="translate(717.44 669.27) scale(0.01424 -0.01445)"/>
<use href="#one" transform="translate(749.87 669.27) scale(0.01424 -0.01445)" fill="#861d1d"/>
<text transform="translate(833.05 669.27) scale(0.985 1)" text-anchor="middle">939<tspan fill="#861d1d">70</tspan></text>
<text transform="translate(940.55 669.27) scale(0.985 1)" text-anchor="middle">554<tspan fill="#861d1d">48</tspan></text>
<text transform="translate(1048.05 669.27) scale(0.985 1)" text-anchor="middle">67 <tspan fill="#861d1d">45</tspan></text>
<use href="#one" transform="translate(1039.94 669.27) scale(0.01424 -0.01445)"/>
<text transform="translate(80.55 721.44) scale(0.985 1)" text-anchor="middle">466<tspan fill="#861d1d">38</tspan></text>
<text transform="translate(188.05 721.44) scale(0.985 1)" text-anchor="middle">824<tspan fill="#861d1d">72</tspan></text>
<text transform="translate(295.55 721.44) scale(0.985 1)" text-anchor="middle">666<tspan fill="#861d1d">50</tspan></text>
<text transform="translate(403.05 721.44) scale(0.985 1)" text-anchor="middle">768<tspan fill="#861d1d">64</tspan></text>
<text transform="translate(510.55 721.44) scale(0.985 1)" text-anchor="middle">294<tspan fill="#861d1d">36</tspan></text>
<text transform="translate(618.05 721.44) scale(0.985 1)" text-anchor="middle">899<tspan fill="#861d1d">27</tspan></text>
<text transform="translate(725.55 721.44) scale(0.985 1)" text-anchor="middle">95 <tspan fill="#861d1d">55</tspan></text>
<use href="#one" transform="translate(717.44 721.44) scale(0.01424 -0.01445)"/>
<text transform="translate(833.05 721.44) scale(0.985 1)" text-anchor="middle">403<tspan fill="#861d1d">06</tspan></text>
<text transform="translate(940.55 721.44) scale(0.985 1)" text-anchor="middle">2 7<tspan fill="#861d1d">76</tspan></text>
<use href="#one" transform="translate(916.23 721.44) scale(0.01424 -0.01445)"/>
<text transform="translate(1048.05 721.44) scale(0.985 1)" text-anchor="middle">653<tspan fill="#861d1d">53</tspan></text>
<text transform="translate(80.55 773.61) scale(0.985 1)" text-anchor="middle">872<tspan fill="#861d1d"> 9</tspan></text>
<use href="#one" transform="translate(88.66 773.61) scale(0.01424 -0.01445)" fill="#861d1d"/>
<text transform="translate(188.05 773.61) scale(0.985 1)" text-anchor="middle">358<tspan fill="#861d1d">62</tspan></text>
<text transform="translate(295.55 773.61) scale(0.985 1)" text-anchor="middle">485<tspan fill="#861d1d">63</tspan></text>
<text transform="translate(403.05 773.61) scale(0.985 1)" text-anchor="middle">967<tspan fill="#861d1d">64</tspan></text>
<text transform="translate(510.55 773.61) scale(0.985 1)" text-anchor="middle">307<tspan fill="#861d1d">75</tspan></text>
<text transform="translate(618.05 773.61) scale(0.985 1)" text-anchor="middle">527<tspan fill="#861d1d">62</tspan></text>
<text transform="translate(725.55 773.61) scale(0.985 1)" text-anchor="middle">328<tspan fill="#861d1d">50</tspan></text>
<text transform="translate(833.05 773.61) scale(0.985 1)" text-anchor="middle">902<tspan fill="#861d1d"> 3</tspan></text>
<use href="#one" transform="translate(841.16 773.61) scale(0.01424 -0.01445)" fill="#861d1d"/>
<text transform="translate(940.55 773.61) scale(0.985 1)" text-anchor="middle">665<tspan fill="#861d1d">8 </tspan></text>
<use href="#one" transform="translate(964.87 773.61) scale(0.01424 -0.01445)" fill="#861d1d"/>
<text transform="translate(1048.05 773.61) scale(0.985 1)" text-anchor="middle">579<tspan fill="#861d1d">74</tspan></text>
<text transform="translate(80.55 825.78) scale(0.985 1)" text-anchor="middle">202<tspan fill="#861d1d">22</tspan></text>
<text transform="translate(188.05 825.78) scale(0.985 1)" text-anchor="middle">872<tspan fill="#861d1d">96</tspan></text>
<text transform="translate(295.55 825.78) scale(0.985 1)" text-anchor="middle">0 0<tspan fill="#861d1d">67</tspan></text>
<use href="#one" transform="translate(271.23 825.78) scale(0.01424 -0.01445)"/>
<text transform="translate(403.05 825.78) scale(0.985 1)" text-anchor="middle">540<tspan fill="#861d1d">45</tspan></text>
<text transform="translate(510.55 825.78) scale(0.985 1)" text-anchor="middle">936<tspan fill="#861d1d">49</tspan></text>
<text transform="translate(618.05 825.78) scale(0.985 1)" text-anchor="middle">797<tspan fill="#861d1d"> 6</tspan></text>
<use href="#one" transform="translate(626.16 825.78) scale(0.01424 -0.01445)" fill="#861d1d"/>
<text transform="translate(725.55 825.78) scale(0.985 1)" text-anchor="middle">38 <tspan fill="#861d1d"> 4</tspan></text>
<use href="#one" transform="translate(717.44 825.78) scale(0.01424 -0.01445)"/>
<use href="#one" transform="translate(733.66 825.78) scale(0.01424 -0.01445)" fill="#861d1d"/>
<text transform="translate(833.05 825.78) scale(0.985 1)" text-anchor="middle"> 9 <tspan fill="#861d1d"> 7</tspan></text>
<use href="#one" transform="translate(792.51 825.78) scale(0.01424 -0.01445)"/>
<use href="#one" transform="translate(824.94 825.78) scale(0.01424 -0.01445)"/>
<use href="#one" transform="translate(841.16 825.78) scale(0.01424 -0.01445)" fill="#861d1d"/>
<text transform="translate(940.55 825.78) scale(0.985 1)" text-anchor="middle">873<tspan fill="#861d1d">54</tspan></text>
<text transform="translate(1048.05 825.78) scale(0.985 1)" text-anchor="middle">796<tspan fill="#861d1d">38</tspan></text>
<text transform="translate(80.55 877.95) scale(0.985 1)" text-anchor="middle">554<tspan fill="#861d1d">3 </tspan></text>
<use href="#one" transform="translate(104.87 877.95) scale(0.01424 -0.01445)" fill="#861d1d"/>
<text transform="translate(188.05 877.95) scale(0.985 1)" text-anchor="middle">895<tspan fill="#861d1d">62</tspan></text>
<text transform="translate(295.55 877.95) scale(0.985 1)" text-anchor="middle"> 85<tspan fill="#861d1d"> 3</tspan></text>
<use href="#one" transform="translate(255.01 877.95) scale(0.01424 -0.01445)"/>
<use href="#one" transform="translate(303.66 877.95) scale(0.01424 -0.01445)" fill="#861d1d"/>
<text transform="translate(403.05 877.95) scale(0.985 1)" text-anchor="middle">365<tspan fill="#861d1d">54</tspan></text>
<text transform="translate(510.55 877.95) scale(0.985 1)" text-anchor="middle"> 77<tspan fill="#861d1d"> 3</tspan></text>
<use href="#one" transform="translate(470.01 877.95) scale(0.01424 -0.01445)"/>
<use href="#one" transform="translate(518.66 877.95) scale(0.01424 -0.01445)" fill="#861d1d"/>
<text transform="translate(618.05 877.95) scale(0.985 1)" text-anchor="middle">905<tspan fill="#861d1d">24</tspan></text>
<text transform="translate(725.55 877.95) scale(0.985 1)" text-anchor="middle">770<tspan fill="#861d1d">64</tspan></text>
<text transform="translate(833.05 877.95) scale(0.985 1)" text-anchor="middle">059<tspan fill="#861d1d">04</tspan></text>
<text transform="translate(940.55 877.95) scale(0.985 1)" text-anchor="middle">487<tspan fill="#861d1d"> 5</tspan></text>
<use href="#one" transform="translate(948.66 877.95) scale(0.01424 -0.01445)" fill="#861d1d"/>
<text transform="translate(1048.05 877.95) scale(0.985 1)" text-anchor="middle">355<tspan fill="#861d1d">46</tspan></text>
<text transform="translate(80.55 930.12) scale(0.985 1)" text-anchor="middle">880<tspan fill="#861d1d">4 </tspan></text>
<use href="#one" transform="translate(104.87 930.12) scale(0.01424 -0.01445)" fill="#861d1d"/>
<text transform="translate(188.05 930.12) scale(0.985 1)" text-anchor="middle">387<tspan fill="#861d1d">55</tspan></text>
<text transform="translate(295.55 930.12) scale(0.985 1)" text-anchor="middle">044<tspan fill="#861d1d">40</tspan></text>
<text transform="translate(403.05 930.12) scale(0.985 1)" text-anchor="middle">873<tspan fill="#861d1d">47</tspan></text>
<text transform="translate(510.55 930.12) scale(0.985 1)" text-anchor="middle">585<tspan fill="#861d1d">53</tspan></text>
<text transform="translate(618.05 930.12) scale(0.985 1)" text-anchor="middle">682<tspan fill="#861d1d">74</tspan></text>
<text transform="translate(725.55 930.12) scale(0.985 1)" text-anchor="middle">663<tspan fill="#861d1d">27</tspan></text>
<text transform="translate(833.05 930.12) scale(0.985 1)" text-anchor="middle">54 <tspan fill="#861d1d">82</tspan></text>
<use href="#one" transform="translate(824.94 930.12) scale(0.01424 -0.01445)"/>
<text transform="translate(940.55 930.12) scale(0.985 1)" text-anchor="middle">558<tspan fill="#861d1d">90</tspan></text>
<text transform="translate(1048.05 930.12) scale(0.985 1)" text-anchor="middle"> 56<tspan fill="#861d1d">77</tspan></text>
<use href="#one" transform="translate(1007.51 930.12) scale(0.01424 -0.01445)"/>
<text transform="translate(80.55 982.29) scale(0.985 1)" text-anchor="middle">463<tspan fill="#861d1d">84</tspan></text>
<text transform="translate(188.05 982.29) scale(0.985 1)" text-anchor="middle">299<tspan fill="#861d1d">96</tspan></text>
<text transform="translate(295.55 982.29) scale(0.985 1)" text-anchor="middle">902<tspan fill="#861d1d">02</tspan></text>
<text transform="translate(403.05 982.29) scale(0.985 1)" text-anchor="middle">804<tspan fill="#861d1d">36</tspan></text>
<text transform="translate(510.55 982.29) scale(0.985 1)" text-anchor="middle">690<tspan fill="#861d1d">49</tspan></text>
<text transform="translate(618.05 982.29) scale(0.985 1)" text-anchor="middle">87 <tspan fill="#861d1d">90</tspan></text>
<use href="#one" transform="translate(609.94 982.29) scale(0.01424 -0.01445)"/>
<text transform="translate(725.55 982.29) scale(0.985 1)" text-anchor="middle">367<tspan fill="#861d1d"> 3</tspan></text>
<use href="#one" transform="translate(733.66 982.29) scale(0.01424 -0.01445)" fill="#861d1d"/>
<text transform="translate(833.05 982.29) scale(0.985 1)" text-anchor="middle">929<tspan fill="#861d1d">93</tspan></text>
<text transform="translate(940.55 982.29) scale(0.985 1)" text-anchor="middle"> 48<tspan fill="#861d1d">94</tspan></text>
<use href="#one" transform="translate(900.01 982.29) scale(0.01424 -0.01445)"/>
<text transform="translate(1048.05 982.29) scale(0.985 1)" text-anchor="middle">072<tspan fill="#861d1d">53</tspan></text>
<text transform="translate(80.55 1034.46) scale(0.985 1)" text-anchor="middle">769<tspan fill="#861d1d">30</tspan></text>
<text transform="translate(188.05 1034.46) scale(0.985 1)" text-anchor="middle">922<tspan fill="#861d1d">64</tspan></text>
<text transform="translate(295.55 1034.46) scale(0.985 1)" text-anchor="middle">392<tspan fill="#861d1d"> 8</tspan></text>
<use href="#one" transform="translate(303.66 1034.46) scale(0.01424 -0.01445)" fill="#861d1d"/>
<text transform="translate(403.05 1034.46) scale(0.985 1)" text-anchor="middle">788<tspan fill="#861d1d">64</tspan></text>
<text transform="translate(510.55 1034.46) scale(0.985 1)" text-anchor="middle">499<tspan fill="#861d1d">68</tspan></text>
<text transform="translate(618.05 1034.46) scale(0.985 1)" text-anchor="middle">664<tspan fill="#861d1d">49</tspan></text>
<text transform="translate(725.55 1034.46) scale(0.985 1)" text-anchor="middle">533<tspan fill="#861d1d">93</tspan></text>
<text transform="translate(833.05 1034.46) scale(0.985 1)" text-anchor="middle">753<tspan fill="#861d1d">03</tspan></text>
<text transform="translate(940.55 1034.46) scale(0.985 1)" text-anchor="middle">62 <tspan fill="#861d1d">98</tspan></text>
<use href="#one" transform="translate(932.44 1034.46) scale(0.01424 -0.01445)"/>
<text transform="translate(1048.05 1034.46) scale(0.985 1)" text-anchor="middle">688<tspan fill="#861d1d">79</tspan></text>
<text transform="translate(80.55 1086.63) scale(0.985 1)" text-anchor="middle">7 0<tspan fill="#861d1d">85</tspan></text>
<use href="#one" transform="translate(56.23 1086.63) scale(0.01424 -0.01445)"/>
<text transform="translate(188.05 1086.63) scale(0.985 1)" text-anchor="middle">88 <tspan fill="#861d1d">82</tspan></text>
<use href="#one" transform="translate(179.94 1086.63) scale(0.01424 -0.01445)"/>
<text transform="translate(295.55 1086.63) scale(0.985 1)" text-anchor="middle">043<tspan fill="#861d1d">48</tspan></text>
<text transform="translate(403.05 1086.63) scale(0.985 1)" text-anchor="middle">589<tspan fill="#861d1d">53</tspan></text>
<text transform="translate(510.55 1086.63) scale(0.985 1)" text-anchor="middle">78 <tspan fill="#861d1d">95</tspan></text>
<use href="#one" transform="translate(502.44 1086.63) scale(0.01424 -0.01445)"/>
<text transform="translate(618.05 1086.63) scale(0.985 1)" text-anchor="middle">7 8<tspan fill="#861d1d">08</tspan></text>
<use href="#one" transform="translate(593.73 1086.63) scale(0.01424 -0.01445)"/>
<text transform="translate(725.55 1086.63) scale(0.985 1)" text-anchor="middle">254<tspan fill="#861d1d">96</tspan></text>
<text transform="translate(833.05 1086.63) scale(0.985 1)" text-anchor="middle"> 02<tspan fill="#861d1d">  </tspan></text>
<use href="#one" transform="translate(792.51 1086.63) scale(0.01424 -0.01445)"/>
<use href="#one" transform="translate(841.16 1086.63) scale(0.01424 -0.01445)" fill="#861d1d"/>
<use href="#one" transform="translate(857.37 1086.63) scale(0.01424 -0.01445)" fill="#861d1d"/>
<text transform="translate(940.55 1086.63) scale(0.985 1)" text-anchor="middle">502<tspan fill="#861d1d">2 </tspan></text>
<use href="#one" transform="translate(964.87 1086.63) scale(0.01424 -0.01445)" fill="#861d1d"/>
<text transform="translate(1048.05 1086.63) scale(0.985 1)" text-anchor="middle">274<tspan fill="#861d1d">65</tspan></text>
<text transform="translate(80.55 1138.80) scale(0.985 1)" text-anchor="middle">786<tspan fill="#861d1d">45</tspan></text>
<text transform="translate(188.05 1138.80) scale(0.985 1)" text-anchor="middle">896<tspan fill="#861d1d">65</tspan></text>
<text transform="translate(295.55 1138.80) scale(0.985 1)" text-anchor="middle">760<tspan fill="#861d1d">44</tspan></text>
<text transform="translate(403.05 1138.80) scale(0.985 1)" text-anchor="middle">892<tspan fill="#861d1d">9 </tspan></text>
<use href="#one" transform="translate(427.37 1138.80) scale(0.01424 -0.01445)" fill="#861d1d"/>
<text transform="translate(510.55 1138.80) scale(0.985 1)" text-anchor="middle">85 <tspan fill="#861d1d">98</tspan></text>
<use href="#one" transform="translate(502.44 1138.80) scale(0.01424 -0.01445)"/>
<text transform="translate(618.05 1138.80) scale(0.985 1)" text-anchor="middle">8 5<tspan fill="#861d1d">7 </tspan></text>
<use href="#one" transform="translate(593.73 1138.80) scale(0.01424 -0.01445)"/>
<use href="#one" transform="translate(642.37 1138.80) scale(0.01424 -0.01445)" fill="#861d1d"/>
<text transform="translate(725.55 1138.80) scale(0.985 1)" text-anchor="middle">274<tspan fill="#861d1d">04</tspan></text>
<text transform="translate(833.05 1138.80) scale(0.985 1)" text-anchor="middle"> 79<tspan fill="#861d1d">65</tspan></text>
<use href="#one" transform="translate(792.51 1138.80) scale(0.01424 -0.01445)"/>
<text transform="translate(940.55 1138.80) scale(0.985 1)" text-anchor="middle">448<tspan fill="#861d1d">23</tspan></text>
<text transform="translate(1048.05 1138.80) scale(0.985 1)" text-anchor="middle">500<tspan fill="#861d1d">00</tspan></text>
<text transform="translate(80.55 1190.97) scale(0.985 1)" text-anchor="middle">749<tspan fill="#861d1d">54</tspan></text>
<text transform="translate(188.05 1190.97) scale(0.985 1)" text-anchor="middle">4 0<tspan fill="#861d1d">55</tspan></text>
<use href="#one" transform="translate(163.73 1190.97) scale(0.01424 -0.01445)"/>
<text transform="translate(295.55 1190.97) scale(0.985 1)" text-anchor="middle">432<tspan fill="#861d1d"> 8</tspan></text>
<use href="#one" transform="translate(303.66 1190.97) scale(0.01424 -0.01445)" fill="#861d1d"/>
<text transform="translate(403.05 1190.97) scale(0.985 1)" text-anchor="middle">3 6<tspan fill="#861d1d">95</tspan></text>
<use href="#one" transform="translate(378.73 1190.97) scale(0.01424 -0.01445)"/>
<text transform="translate(510.55 1190.97) scale(0.985 1)" text-anchor="middle">245<tspan fill="#861d1d">47</tspan></text>
<text transform="translate(618.05 1190.97) scale(0.985 1)" text-anchor="middle">508<tspan fill="#861d1d">46</tspan></text>
<text transform="translate(725.55 1190.97) scale(0.985 1)" text-anchor="middle">040<tspan fill="#861d1d">93</tspan></text>
<text transform="translate(833.05 1190.97) scale(0.985 1)" text-anchor="middle">606<tspan fill="#861d1d">52</tspan></text>
<text transform="translate(940.55 1190.97) scale(0.985 1)" text-anchor="middle">767<tspan fill="#861d1d">77</tspan></text>
<text transform="translate(1048.05 1190.97) scale(0.985 1)" text-anchor="middle">3 6<tspan fill="#861d1d">98</tspan></text>
<use href="#one" transform="translate(1023.73 1190.97) scale(0.01424 -0.01445)"/>
<text transform="translate(80.55 1243.14) scale(0.985 1)" text-anchor="middle">283<tspan fill="#861d1d">83</tspan></text>
<text transform="translate(188.05 1243.14) scale(0.985 1)" text-anchor="middle">253<tspan fill="#861d1d">5 </tspan></text>
<use href="#one" transform="translate(212.37 1243.14) scale(0.01424 -0.01445)" fill="#861d1d"/>
<text transform="translate(295.55 1243.14) scale(0.985 1)" text-anchor="middle">380<tspan fill="#861d1d">74</tspan></text>
<text transform="translate(403.05 1243.14) scale(0.985 1)" text-anchor="middle">773<tspan fill="#861d1d"> 8</tspan></text>
<use href="#one" transform="translate(411.16 1243.14) scale(0.01424 -0.01445)" fill="#861d1d"/>
<text transform="translate(510.55 1243.14) scale(0.985 1)" text-anchor="middle">292<tspan fill="#861d1d"> 3</tspan></text>
<use href="#one" transform="translate(518.66 1243.14) scale(0.01424 -0.01445)" fill="#861d1d"/>
<text transform="translate(618.05 1243.14) scale(0.985 1)" text-anchor="middle">97 <tspan fill="#861d1d">40</tspan></text>
<use href="#one" transform="translate(609.94 1243.14) scale(0.01424 -0.01445)"/>
<text transform="translate(725.55 1243.14) scale(0.985 1)" text-anchor="middle"> 53<tspan fill="#861d1d">6 </tspan></text>
<use href="#one" transform="translate(685.01 1243.14) scale(0.01424 -0.01445)"/>
<use href="#one" transform="translate(749.87 1243.14) scale(0.01424 -0.01445)" fill="#861d1d"/>
<text transform="translate(833.05 1243.14) scale(0.985 1)" text-anchor="middle">634<tspan fill="#861d1d">37</tspan></text>
<text transform="translate(940.55 1243.14) scale(0.985 1)" text-anchor="middle">794<tspan fill="#861d1d">36</tspan></text>
<text transform="translate(1048.05 1243.14) scale(0.985 1)" text-anchor="middle"> 28<tspan fill="#861d1d">43</tspan></text>
<use href="#one" transform="translate(1007.51 1243.14) scale(0.01424 -0.01445)"/>
<text transform="translate(80.55 1295.31) scale(0.985 1)" text-anchor="middle">97 <tspan fill="#861d1d">32</tspan></text>
<use href="#one" transform="translate(72.44 1295.31) scale(0.01424 -0.01445)"/>
<text transform="translate(188.05 1295.31) scale(0.985 1)" text-anchor="middle"> 64<tspan fill="#861d1d">80</tspan></text>
<use href="#one" transform="translate(147.51 1295.31) scale(0.01424 -0.01445)"/>
<text transform="translate(295.55 1295.31) scale(0.985 1)" text-anchor="middle">7 4<tspan fill="#861d1d">00</tspan></text>
<use href="#one" transform="translate(271.23 1295.31) scale(0.01424 -0.01445)"/>
<text transform="translate(403.05 1295.31) scale(0.985 1)" text-anchor="middle">972<tspan fill="#861d1d">85</tspan></text>
<text transform="translate(510.55 1295.31) scale(0.985 1)" text-anchor="middle">972<tspan fill="#861d1d"> 8</tspan></text>
<use href="#one" transform="translate(518.66 1295.31) scale(0.01424 -0.01445)" fill="#861d1d"/>
<text transform="translate(618.05 1295.31) scale(0.985 1)" text-anchor="middle">496<tspan fill="#861d1d">77</tspan></text>
<text transform="translate(725.55 1295.31) scale(0.985 1)" text-anchor="middle">228<tspan fill="#861d1d">57</tspan></text>
<text transform="translate(833.05 1295.31) scale(0.985 1)" text-anchor="middle">248<tspan fill="#861d1d">32</tspan></text>
<text transform="translate(940.55 1295.31) scale(0.985 1)" text-anchor="middle">08 <tspan fill="#861d1d">54</tspan></text>
<use href="#one" transform="translate(932.44 1295.31) scale(0.01424 -0.01445)"/>
<text transform="translate(1048.05 1295.31) scale(0.985 1)" text-anchor="middle">054<tspan fill="#861d1d">99</tspan></text>
<text transform="translate(80.55 1347.48) scale(0.985 1)" text-anchor="middle">206<tspan fill="#861d1d">53</tspan></text>
<text transform="translate(188.05 1347.48) scale(0.985 1)" text-anchor="middle">094<tspan fill="#861d1d">0 </tspan></text>
<use href="#one" transform="translate(212.37 1347.48) scale(0.01424 -0.01445)" fill="#861d1d"/>
<text transform="translate(295.55 1347.48) scale(0.985 1)" text-anchor="middle">884<tspan fill="#861d1d">60</tspan></text>
<text transform="translate(403.05 1347.48) scale(0.985 1)" text-anchor="middle">993<tspan fill="#861d1d">68</tspan></text>
<text transform="translate(510.55 1347.48) scale(0.985 1)" text-anchor="middle">87 <tspan fill="#861d1d">09</tspan></text>
<use href="#one" transform="translate(502.44 1347.48) scale(0.01424 -0.01445)"/>
<text transform="translate(618.05 1347.48) scale(0.985 1)" text-anchor="middle">367<tspan fill="#861d1d">68</tspan></text>
<text transform="translate(725.55 1347.48) scale(0.985 1)" text-anchor="middle">695<tspan fill="#861d1d">02</tspan></text>
<text transform="translate(833.05 1347.48) scale(0.985 1)" text-anchor="middle">286<tspan fill="#861d1d">70</tspan></text>
<text transform="translate(940.55 1347.48) scale(0.985 1)" text-anchor="middle">595<tspan fill="#861d1d">09</tspan></text>
<text transform="translate(1048.05 1347.48) scale(0.985 1)" text-anchor="middle">506<tspan fill="#861d1d">04</tspan></text>
<text transform="translate(80.55 1399.65) scale(0.985 1)" text-anchor="middle">984<tspan fill="#861d1d">09</tspan></text>
<text transform="translate(188.05 1399.65) scale(0.985 1)" text-anchor="middle">076<tspan fill="#861d1d">3 </tspan></text>
<use href="#one" transform="translate(212.37 1399.65) scale(0.01424 -0.01445)" fill="#861d1d"/>
<text transform="translate(295.55 1399.65) scale(0.985 1)" text-anchor="middle"> 59<tspan fill="#861d1d">72</tspan></text>
<use href="#one" transform="translate(255.01 1399.65) scale(0.01424 -0.01445)"/>
<text transform="translate(403.05 1399.65) scale(0.985 1)" text-anchor="middle">320<tspan fill="#861d1d">47</tspan></text>
<text transform="translate(510.55 1399.65) scale(0.985 1)" text-anchor="middle">4 7<tspan fill="#861d1d"> 7</tspan></text>
<use href="#one" transform="translate(486.23 1399.65) scale(0.01424 -0.01445)"/>
<use href="#one" transform="translate(518.66 1399.65) scale(0.01424 -0.01445)" fill="#861d1d"/>
<text transform="translate(618.05 1399.65) scale(0.985 1)" text-anchor="middle">469<tspan fill="#861d1d">70</tspan></text>
<text transform="translate(725.55 1399.65) scale(0.985 1)" text-anchor="middle">005<tspan fill="#861d1d">58</tspan></text>
<text transform="translate(833.05 1399.65) scale(0.985 1)" text-anchor="middle">89 <tspan fill="#861d1d">5 </tspan></text>
<use href="#one" transform="translate(824.94 1399.65) scale(0.01424 -0.01445)"/>
<use href="#one" transform="translate(857.37 1399.65) scale(0.01424 -0.01445)" fill="#861d1d"/>
<text transform="translate(940.55 1399.65) scale(0.985 1)" text-anchor="middle">937<tspan fill="#861d1d"> 2</tspan></text>
<use href="#one" transform="translate(948.66 1399.65) scale(0.01424 -0.01445)" fill="#861d1d"/>
<text transform="translate(1048.05 1399.65) scale(0.985 1)" text-anchor="middle"> 97<tspan fill="#861d1d">39</tspan></text>
<use href="#one" transform="translate(1007.51 1399.65) scale(0.01424 -0.01445)"/>
</g>
<text x="1184.5" y="304.6" font-size="30.2" fill="#d9483c" text-anchor="middle">96</text>
<rect x="405.20" y="320.70" width="50.50" height="50.00" fill="none" stroke="#000" stroke-width="5.80"/>
<rect x="514.00" y="320.70" width="50.90" height="50.50" fill="none" stroke="#e4454b" stroke-width="5.60"/>
<rect x="424.00" y="215.10" width="29.70" height="49.40" fill="none" stroke="#2358d6" stroke-width="5.60"/>
<rect x="497.00" y="213.00" width="26.10" height="98.70" fill="none" stroke="#2358d6" stroke-width="5.60"/>
<line x1="454.56" y1="244.21" x2="496.04" y2="262.09" stroke="#2358d6" stroke-width="6"/>
<path d="M469.90 251.00 C460.90 275.50 454.90 312.50 482.40 329.00" fill="none" stroke="#2358d6" stroke-width="5.6"/>
<path d="M504.90 341.50 L487.40 315.80 L473.90 339.80 Z" fill="#2358d6"/>
<path d="M503.50 265.40H516.50M510.00 258.90V271.90" stroke="#2358d6" stroke-width="2.8" fill="none"/>
<text transform="translate(395.16 414.40) scale(1.045 1)" font-size="49.50" fill="#000">M</text>
<text transform="translate(436.07 414.40) scale(1 1)" font-size="49.50" fill="#000">ã</text>
<rect x="1051.30" y="268.10" width="50.30" height="50.40" fill="none" stroke="#000" stroke-width="5.80"/>
<rect x="1156.80" y="267.90" width="51.10" height="51.10" fill="none" stroke="#e4454b" stroke-width="5.60"/>
<rect x="1068.00" y="161.20" width="31.90" height="51.70" fill="none" stroke="#2358d6" stroke-width="5.60"/>
<rect x="1142.80" y="162.20" width="26.20" height="98.30" fill="none" stroke="#2358d6" stroke-width="5.60"/>
<line x1="1100.94" y1="192.05" x2="1141.76" y2="213.95" stroke="#2358d6" stroke-width="6"/>
<path d="M1115.70 199.40 C1106.70 223.90 1100.70 260.90 1128.20 277.40" fill="none" stroke="#2358d6" stroke-width="5.6"/>
<path d="M1150.70 289.90 L1133.20 264.20 L1119.70 288.20 Z" fill="#2358d6"/>
<path d="M1149.40 215.30H1162.40M1155.90 208.80V221.80" stroke="#2358d6" stroke-width="2.8" fill="none"/>
<text transform="translate(1041.96 363.50) scale(1.045 1)" font-size="49.50" fill="#000">M</text>
<text transform="translate(1082.87 363.50) scale(1 1)" font-size="49.50" fill="#000">ã</text>
<rect x="82.20" y="684.90" width="49.50" height="49.80" fill="none" stroke="#000" stroke-width="5.80"/>
<rect x="190.80" y="686.10" width="51.80" height="50.50" fill="none" stroke="#e4454b" stroke-width="5.60"/>
<rect x="101.90" y="579.30" width="29.30" height="49.90" fill="none" stroke="#2358d6" stroke-width="5.60"/>
<rect x="174.10" y="580.20" width="24.90" height="97.50" fill="none" stroke="#2358d6" stroke-width="5.60"/>
<line x1="132.10" y1="614.28" x2="173.20" y2="627.72" stroke="#2358d6" stroke-width="6"/>
<path d="M150.50 619.00 C141.50 643.50 135.50 680.50 163.00 697.00" fill="none" stroke="#2358d6" stroke-width="5.6"/>
<path d="M185.50 709.50 L168.00 683.80 L154.50 707.80 Z" fill="#2358d6"/>
<path d="M178.10 632.00H191.10M184.60 625.50V638.50" stroke="#2358d6" stroke-width="2.8" fill="none"/>
<text transform="translate(64.26 779.30) scale(1.045 1)" font-size="49.50" fill="#000">M</text>
<text transform="translate(105.17 779.30) scale(1 1)" font-size="49.50" fill="#000">ã</text>
<rect x="83.80" y="1207.30" width="50.90" height="49.80" fill="none" stroke="#000" stroke-width="5.80"/>
<rect x="190.80" y="1209.10" width="51.40" height="50.30" fill="none" stroke="#e4454b" stroke-width="5.60"/>
<rect x="100.90" y="1101.10" width="31.70" height="52.00" fill="none" stroke="#2358d6" stroke-width="5.60"/>
<rect x="175.20" y="1101.70" width="25.60" height="98.80" fill="none" stroke="#2358d6" stroke-width="5.60"/>
<line x1="133.61" y1="1131.80" x2="174.19" y2="1152.20" stroke="#2358d6" stroke-width="6"/>
<path d="M147.30 1138.30 C138.30 1162.80 132.30 1199.80 159.80 1216.30" fill="none" stroke="#2358d6" stroke-width="5.6"/>
<path d="M182.30 1228.80 L164.80 1203.10 L151.30 1227.10 Z" fill="#2358d6"/>
<path d="M181.40 1150.80H194.40M187.90 1144.30V1157.30" stroke="#2358d6" stroke-width="2.8" fill="none"/>
<text transform="translate(74.46 1301.10) scale(1.045 1)" font-size="49.50" fill="#000">M</text>
<text transform="translate(115.37 1301.10) scale(1 1)" font-size="49.50" fill="#000">ã</text>
<text transform="translate(1154.6 389.8) scale(0.987 1)" font-size="30.7" fill="#dc3d45" text-anchor="middle">Bộ  4</text>
<use href="#one" fill="#dc3d45" transform="translate(1160.49 389.8) scale(0.01480 -0.01499)"/>
<text transform="translate(1154.7 424.8) scale(0.971 1)" font-size="31.4" fill="#dc3d45" text-anchor="middle">BTĐ: 96</text>
</svg></body></html>
